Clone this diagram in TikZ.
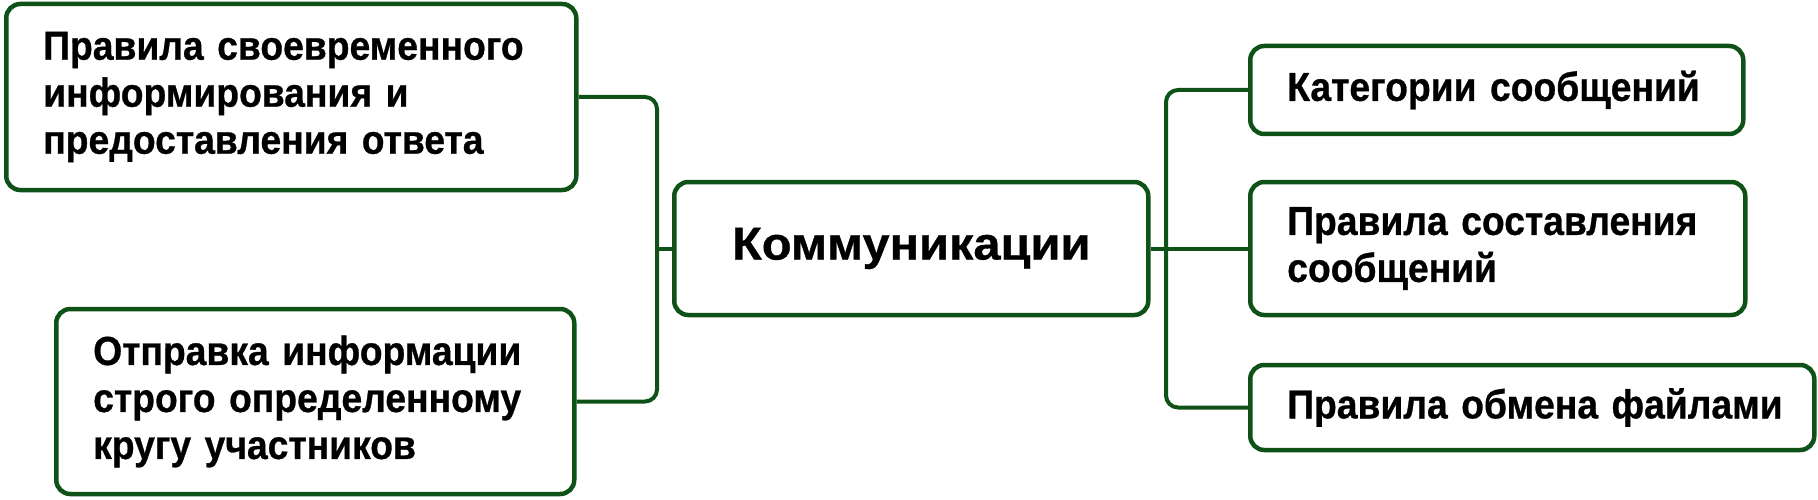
\documentclass[tikz,border=0pt]{standalone}
\usepackage{fontspec}
\newfontfamily\boxfont[FakeStretch=0.92,FakeBold=0.7]{Liberation Sans}
\newfontfamily\mainfont[FakeStretch=1.06,FakeBold=0.7]{Liberation Sans}
\definecolor{frame}{RGB}{14,82,24}
\tikzset{
  box/.style={draw=frame, line width=4.5pt, rounded corners=14pt, inner ysep=0pt,
    font=\boxfont\bfseries\fontsize{40.5}{47}\selectfont, align=left, anchor=west},
  conn/.style={draw=frame, line width=4pt, rounded corners=12pt},
}
\begin{document}
\begin{tikzpicture}[x=1pt,y=-1pt]
\useasboundingbox (0,0) rectangle (1818,500);
% left column
\node[box, text width=496pt, inner xsep=37pt, minimum height=186pt] (tl) at (4,97)
  {Правила своевременного\\информирования и\\предоставления ответа};
\node[box, text width=444pt, inner xsep=37pt, minimum height=185pt] (bl) at (54,401.5)
  {Отправка информации\\строго определенному\\кругу участников};
% centre
\node[box, align=center, font=\mainfont\bfseries\fontsize{46}{55}\selectfont,
  minimum width=474pt, minimum height=133pt, inner xsep=0pt] (c) at (672,248.5) {Коммуникации};
% right column
\node[box, text width=419pt, inner xsep=37pt, minimum height=88pt] (r1) at (1248,90)
  {\mbox{Категории сообщений}};
\node[box, text width=421pt, inner xsep=37pt, minimum height=133pt] (r2) at (1248,248.5)
  {Правила составления\\сообщений};
\node[box, text width=490pt, inner xsep=37pt, minimum height=85pt] (r3) at (1248,407.5)
  {\mbox{Правила обмена файлами}};
% connectors
\coordinate (lj) at (657,248.5);
\coordinate (rj) at (1166,248.5);
\draw[conn] (tl.east) -| (lj) |- (bl.east);
\draw[conn] (lj) -- (c.west);
\draw[conn] (c.east) -- (r2.west);
\draw[conn] (r1.west) -| (rj) |- (r3.west);
\end{tikzpicture}
\end{document}
